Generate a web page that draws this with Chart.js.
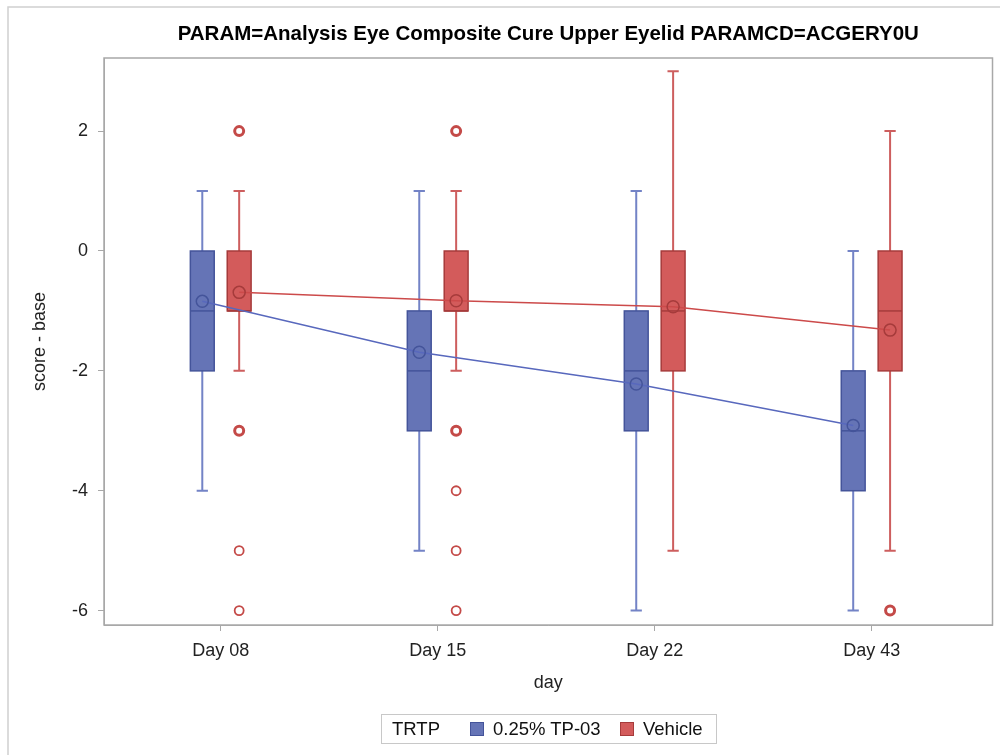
<!DOCTYPE html>
<html>
<head>
<meta charset="utf-8">
<script src="https://cdn.jsdelivr.net/npm/chart.js@4.4.1/dist/chart.umd.min.js"></script>
<style>
  body { margin: 0; background: #fff; }
  #wrap { position: relative; width: 1000px; height: 755px; overflow: hidden; }
  #chart { position: absolute; left: 0; top: 0; }
  #legend {
    position: absolute; left: 381px; top: 714px; width: 336px; height: 30px;
    border: 1px solid #c8c8c8; box-sizing: border-box;
    font-family: 'Liberation Sans', Arial, sans-serif; font-size: 18.5px; color: #111;
  }
  #legend span { position: absolute; top: 3px; line-height: 22px; white-space: nowrap; }
  #legend .sw { top: 7px; width: 12px; height: 12px; border: 1px solid; }
</style>
</head>
<body>
<div id="wrap">
  <canvas id="chart" width="1000" height="755"></canvas>
  <div id="legend">
    <span style="left:10px">TRTP</span>
    <span class="sw" style="left:88px; background:#6574b6; border-color:#44549a"></span>
    <span style="left:111px">0.25% TP-03</span>
    <span class="sw" style="left:238px; background:#d35b5b; border-color:#a63b3b"></span>
    <span style="left:261px">Vehicle</span>
  </div>
</div>
<script>
// categories
const days = ['Day 08', 'Day 15', 'Day 22', 'Day 43'];

// 0.25% TP-03 box stats
const tpMin    = [-4, -5, -6, -6];
const tpQ1     = [-2, -3, -3, -4];
const tpMedian = [-1, -2, -2, -3];
const tpQ3     = [0, -1, -1, -2];
const tpMax    = [1, 1, 1, 0];
const tpMean   = [-0.84, -1.69, -2.22, -2.91];

// Vehicle box stats
const vehMin    = [-2, -2, -5, -5];
const vehQ1     = [-1, -1, -2, -2];
const vehMedian = [-1, -1, -1, -1];
const vehQ3     = [0, 0, 0, 0];
const vehMax    = [1, 1, 3, 2];
const vehMean   = [-0.69, -0.83, -0.93, -1.32];

// Vehicle outliers (day index, value, number of subjects)
const outDay   = [0, 0, 0, 0, 1, 1, 1, 1, 1, 3];
const outValue = [2, -3, -5, -6, 2, -3, -4, -5, -6, -6];
const outCount = [3, 3, 1, 1, 3, 3, 1, 1, 1, 3];

const yTicks = [-6, -4, -2, 0, 2];

const shift = 0.085;  // half distance between the two boxes of a day
const boxHalf = 0.055;
const capHalf = 0.026;

const groups = [
  {off: -shift, min: tpMin, q1: tpQ1, med: tpMedian, q3: tpQ3, max: tpMax,
   fill: '#6574b6', edge: '#44549a', whisker: '#7383c6'},
  {off: shift, min: vehMin, q1: vehQ1, med: vehMedian, q3: vehQ3, max: vehMax,
   fill: '#d35b5b', edge: '#a63b3b', whisker: '#cd5e5e'}
];

const boxPlugin = {
  id: 'boxes',
  beforeDraw(chart) {
    const ctx = chart.ctx;
    ctx.save();
    ctx.strokeStyle = '#d0d0d0';
    ctx.lineWidth = 1.5;
    ctx.strokeRect(8, 7, 1100, 900);
    ctx.restore();
  },
  beforeDatasetsDraw(chart) {
    const ctx = chart.ctx;
    const xs = chart.scales.x, ys = chart.scales.y;
    ctx.save();
    groups.forEach(g => {
      days.forEach((d, i) => {
        const cx = xs.getPixelForValue(i + g.off);
        const bl = xs.getPixelForValue(i + g.off - boxHalf);
        const br = xs.getPixelForValue(i + g.off + boxHalf);
        const cl = xs.getPixelForValue(i + g.off - capHalf);
        const cr = xs.getPixelForValue(i + g.off + capHalf);
        const yMin = ys.getPixelForValue(g.min[i]);
        const yMax = ys.getPixelForValue(g.max[i]);
        const yQ1 = ys.getPixelForValue(g.q1[i]);
        const yQ3 = ys.getPixelForValue(g.q3[i]);
        const yMed = ys.getPixelForValue(g.med[i]);
        // whiskers
        ctx.strokeStyle = g.whisker;
        ctx.lineWidth = 2;
        ctx.beginPath();
        ctx.moveTo(cx, yMax); ctx.lineTo(cx, yQ3);
        ctx.moveTo(cx, yQ1); ctx.lineTo(cx, yMin);
        ctx.moveTo(cl, yMax); ctx.lineTo(cr, yMax);
        ctx.moveTo(cl, yMin); ctx.lineTo(cr, yMin);
        ctx.stroke();
        // box
        ctx.fillStyle = g.fill;
        ctx.fillRect(bl, yQ3, br - bl, yQ1 - yQ3);
        ctx.strokeStyle = g.edge;
        ctx.lineWidth = 1.5;
        ctx.strokeRect(bl, yQ3, br - bl, yQ1 - yQ3);
        ctx.beginPath();
        ctx.moveTo(bl, yMed); ctx.lineTo(br, yMed);
        ctx.stroke();
      });
    });
    ctx.restore();
  },
  afterDraw(chart) {
    const a = chart.chartArea, ctx = chart.ctx;
    ctx.save();
    ctx.strokeStyle = '#a8a8a8';
    ctx.lineWidth = 1.5;
    ctx.strokeRect(a.left, a.top, a.right - a.left, a.bottom - a.top);
    ctx.restore();
  }
};

const tpMeanPts = tpMean.map((v, i) => ({x: i - shift, y: v}));
const vehMeanPts = vehMean.map((v, i) => ({x: i + shift, y: v}));
const outPts = outValue.map((v, i) => ({x: outDay[i] + shift, y: v}));

new Chart(document.getElementById('chart'), {
  type: 'scatter',
  data: {
    datasets: [
      {
        label: '0.25% TP-03 mean', type: 'line', data: tpMeanPts,
        borderColor: '#5868bd', borderWidth: 1.5, showLine: true, fill: false,
        pointRadius: 6, pointBorderWidth: 1.5,
        pointBackgroundColor: 'rgba(0,0,0,0)', pointBorderColor: '#44549a'
      },
      {
        label: 'Vehicle mean', type: 'line', data: vehMeanPts,
        borderColor: '#cc4a4a', borderWidth: 1.5, showLine: true, fill: false,
        pointRadius: 6, pointBorderWidth: 1.5,
        pointBackgroundColor: 'rgba(0,0,0,0)', pointBorderColor: '#a63b3b'
      },
      {
        label: 'Vehicle outliers', data: outPts,
        pointRadius: 4.5,
        pointBorderWidth: outCount.map(c => c > 1 ? 3 : 1.8),
        pointBackgroundColor: 'rgba(0,0,0,0)', pointBorderColor: '#c44a48'
      }
    ]
  },
  plugins: [boxPlugin],
  options: {
    responsive: false,
    animation: false,
    devicePixelRatio: 1,
    layout: { padding: { left: 0, right: 6, top: 0, bottom: 0 } },
    plugins: {
      legend: { display: false },
      tooltip: { enabled: false },
      title: {
        display: true, fullSize: false,
        text: 'PARAM=Analysis Eye Composite Cure Upper Eyelid PARAMCD=ACGERY0U',
        color: '#000',
        font: { family: 'Liberation Sans', size: 20.5, weight: 'bold' },
        padding: { top: 22.5, bottom: 10.9 }
      }
    },
    scales: {
      x: {
        type: 'linear', min: -0.538, max: 3.557,
        afterBuildTicks: s => { s.ticks = days.map((d, i) => ({value: i})); },
        afterFit: s => { s.height = 130; },
        ticks: {
          callback: v => days[v],
          color: '#222', padding: 9,
          font: { family: 'Liberation Sans', size: 18 }
        },
        grid: { drawOnChartArea: false, drawTicks: true, tickLength: 6, color: '#a8a8a8' },
        border: { color: '#a8a8a8' },
        title: {
          display: true, text: 'day', color: '#222',
          font: { family: 'Liberation Sans', size: 18 },
          padding: { top: 0, bottom: 61 }
        }
      },
      y: {
        min: -6.24, max: 3.22,
        afterBuildTicks: s => { s.ticks = yTicks.map(v => ({value: v})); },
        afterFit: s => { s.width = 104; },
        ticks: {
          color: '#222', padding: 10,
          font: { family: 'Liberation Sans', size: 18 }
        },
        grid: { drawOnChartArea: false, drawTicks: true, tickLength: 6, color: '#a8a8a8' },
        border: { color: '#a8a8a8' },
        title: {
          display: true, text: 'score - base', color: '#222',
          font: { family: 'Liberation Sans', size: 18 },
          padding: { top: 29, bottom: 0 }
        }
      }
    }
  }
});
</script>
</body>
</html>
